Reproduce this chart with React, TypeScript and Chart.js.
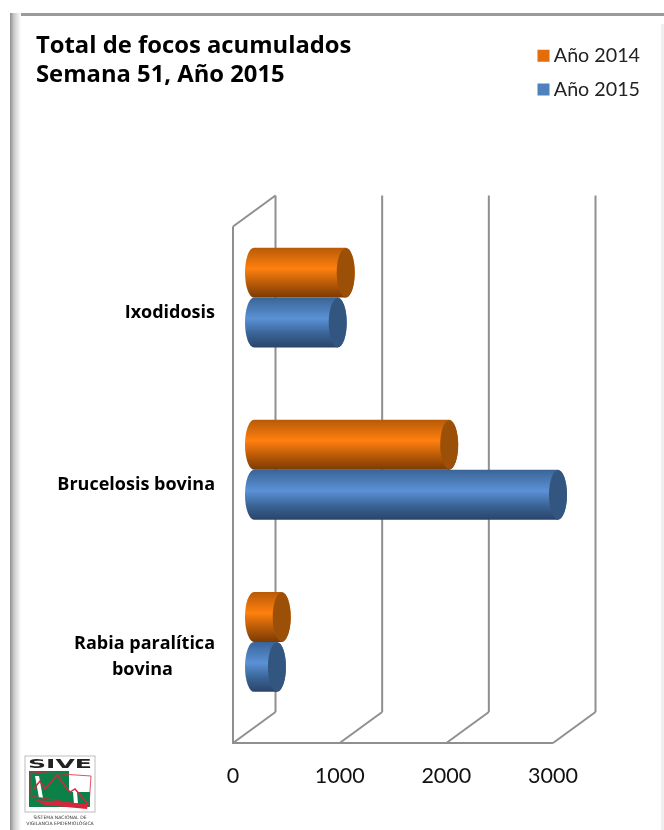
import React, { useEffect, useRef } from "react";
import { Chart, registerables } from "chart.js";

Chart.register(...registerables);

const titleLines = ["Total de focos acumulados", "Semana 51, Año 2015"];
const categories: (string | string[])[] = ["Ixodidosis", "Brucelosis bovina", ["Rabia paralítica", "bovina"]];
const values2014 = [860, 1830, 260];
const values2015 = [785, 2850, 215];
const xTicks = [0, 1000, 2000, 3000];
const FONT = "Lato, 'Open Sans', sans-serif";
const BOLD = "'Open Sans', Lato, sans-serif";

const DX = 42.5, DY = -31;
const MIDX = 21, MIDY = -15;
const RX = 9;

const palette: Record<string, { flat: string; dark: string; mid: string; edge: string; cap: string }> = {
  "Año 2014": { flat: "#E46C0A", dark: "#7A3A04", mid: "#FF800E", edge: "#B85A08", cap: "#9C4F07" },
  "Año 2015": { flat: "#4F81BD", dark: "#2A4468", mid: "#5B91D6", edge: "#3A6496", cap: "#325680" },
};

function shade(ctx: CanvasRenderingContext2D, top: number, bottom: number, name: string) {
  const c = palette[name];
  const g = ctx.createLinearGradient(0, top, 0, bottom);
  g.addColorStop(0, c.edge);
  g.addColorStop(0.42, c.mid);
  g.addColorStop(0.72, c.edge);
  g.addColorStop(1, c.dark);
  return g;
}

const cylinder3d = {
  id: "cylinder3d",
  beforeDatasetsDraw(chart: any) {
    const { ctx, scales } = chart;
    const x = scales.x, area = chart.chartArea;
    ctx.save();
    ctx.strokeStyle = "#8F8F8F";
    ctx.lineWidth = 2;
    const line = (a: number, b: number, c: number, d: number) => {
      ctx.beginPath();
      ctx.moveTo(a, b);
      ctx.lineTo(c, d);
      ctx.stroke();
    };
    line(area.left, area.top, area.left, area.bottom);
    line(area.left - 1, area.bottom, area.right, area.bottom);
    line(area.left, area.top, area.left + DX, area.top + DY);
    xTicks.forEach((t) => {
      const p = x.getPixelForValue(t);
      line(p, area.bottom, p + DX, area.bottom + DY);
      line(p + DX, area.bottom + DY, p + DX, area.top + DY);
    });
    ctx.restore();
    ctx.save();
    ctx.translate(MIDX, MIDY);
  },
  beforeDatasetDraw(chart: any, args: any) {
    const { ctx } = chart;
    const name = chart.data.datasets[args.index].label;
    args.meta.data.forEach((el: any) => {
      const top = el.y - el.height / 2, bottom = el.y + el.height / 2;
      ctx.fillStyle = shade(ctx, top, bottom, name);
      ctx.beginPath();
      ctx.ellipse(el.base, el.y, RX, el.height / 2, 0, Math.PI / 2, (3 * Math.PI) / 2);
      ctx.fill();
    });
  },
  afterDatasetDraw(chart: any, args: any) {
    const { ctx } = chart;
    const name = chart.data.datasets[args.index].label;
    args.meta.data.forEach((el: any) => {
      const top = el.y - el.height / 2, bottom = el.y + el.height / 2;
      ctx.fillStyle = shade(ctx, top, bottom, name);
      ctx.beginPath();
      ctx.ellipse(el.x, el.y, RX, el.height / 2, 0, 0, Math.PI * 2);
      ctx.fill();
      ctx.fillStyle = palette[name].cap;
      ctx.beginPath();
      ctx.ellipse(el.x, el.y, RX, el.height / 2 - 0.5, 0, 0, Math.PI * 2);
      ctx.fill();
    });
  },
  afterDatasetsDraw(chart: any) {
    chart.ctx.restore();
  },
  afterLayout(chart: any) {
    const l = chart.legend;
    if (l) {
      const w = l.width, h = l.height;
      l.left = 529;
      l.top = 32;
      l.right = 529 + w;
      l.bottom = 32 + h;
    }
  },
};

function barFill(name: string) {
  return (c: any) => {
    const { chart, dataIndex, datasetIndex } = c;
    const y = chart.scales?.y;
    if (!y || dataIndex === undefined) return palette[name].flat;
    const band = y.getPixelForValue(1) - y.getPixelForValue(0);
    const h = (band * 0.58) / 2;
    const centre = y.getPixelForValue(dataIndex);
    const top = datasetIndex === 0 ? centre - h : centre;
    return shade(chart.ctx, top, top + h, name);
  };
}

export default function App() {
  const ref = useRef<HTMLCanvasElement>(null);
  useEffect(() => {
    document.body.style.margin = "0";
    document.body.style.background = "#fff";
    const chart = new Chart(ref.current!, {
      type: "bar",
      data: {
        labels: categories as any,
        datasets: [
          { label: "Año 2014", data: values2014, backgroundColor: barFill("Año 2014") as any },
          { label: "Año 2015", data: values2015, backgroundColor: barFill("Año 2015") as any },
        ],
      },
      plugins: [cylinder3d],
      options: {
        indexAxis: "y",
        responsive: false,
        animation: false,
        devicePixelRatio: 1,
        layout: { autoPadding: false, padding: { left: 36, right: 111, top: 31, bottom: 38 } },
        datasets: { bar: { categoryPercentage: 0.58, barPercentage: 1 } },
        scales: {
          x: {
            type: "linear",
            min: 0,
            max: 3000,
            afterBuildTicks: (s: any) => { s.ticks = xTicks.map((value) => ({ value })); },
            afterFit: (s: any) => { s.height = 49; },
            grid: { display: false, drawTicks: false },
            border: { display: false },
            ticks: {
              color: "#111",
              font: { family: FONT, size: 21.5 },
              padding: 20,
              maxRotation: 0,
              autoSkip: false,
              callback: (v: any) => String(v),
            },
          },
          y: {
            type: "category",
            afterFit: (s: any) => { s.width = 197; },
            grid: { display: false, drawTicks: false },
            border: { display: false },
            ticks: {
              color: "#000",
              padding: 18,
              font: { family: BOLD, size: 18, weight: "bold", lineHeight: 1.4 },
              callback(this: any, _v: any, i: number) {
                const label = categories[i];
                return Array.isArray(label)
                  ? [label[0], label[1] + "\u00a0".repeat(9)]
                  : label;
              },
            } as any,
          },
        },
        plugins: {
          tooltip: { enabled: false },
          title: {
            display: true,
            text: titleLines,
            align: "start",
            color: "#000",
            font: { family: BOLD, size: 23.8, weight: "bold", lineHeight: 1.25 },
            padding: { top: 0, bottom: 136 },
          },
          legend: {
            display: true,
            position: "chartArea" as any,
            align: "start",
            labels: {
              boxWidth: 1,
              boxHeight: 1,
              padding: 14,
              color: "#222",
              font: { family: FONT, size: 19.7 },
              generateLabels: (c: any) =>
                c.data.datasets.map((d: any, i: number) => ({
                  text: d.label,
                  fillStyle: palette[d.label].flat,
                  strokeStyle: palette[d.label].flat,
                  lineWidth: 11,
                  lineJoin: "miter",
                  datasetIndex: i,
                  fontColor: "#222",
                })),
            },
          },
        },
      },
    });
    return () => chart.destroy();
  }, []);

  return (
    <div style={{ position: "relative", width: 664, height: 830, overflow: "hidden", background: "#fff" }}>
      <div style={{ position: "absolute", left: 10, top: 13, width: 660, height: 2.5, background: "#9A9A9A" }} />
      <div style={{ position: "absolute", left: 10, top: 13, width: 11, height: 820, background: "linear-gradient(90deg,#8E8E8E,#C8C8C8 35%,#fff)" }} />
      <div style={{ position: "absolute", right: 0, top: 24, width: 3, height: 810, background: "#EFEFEF" }} />
      <canvas ref={ref} width={664} height={830} style={{ position: "absolute", left: 0, top: 0 }} />
      <svg width={100} height={76} viewBox="0 0 100 76" style={{ position: "absolute", left: 15, top: 754 }}>
        <rect x={10} y={2} width={70} height={56} fill="#fff" stroke="#BDBDBD" />
        <text x={45} y={14} textAnchor="middle" fontFamily="DejaVu Sans" fontWeight="bold" fontSize={13} textLength={64} lengthAdjust="spacingAndGlyphs" fill="#222">SIVE</text>
        <polygon points="14,17 54,17 54,38 75,38 75,53 14,53" fill="#0B8048" />
        <polygon points="20,22 24,22 28,44 24,44" fill="#fff" />
        <polygon points="58,38 62,38 63,50 59,50" fill="#fff" />
        <polyline points="16,18 76,22 74,52 16,42 16,18" fill="none" stroke="#D9253A" strokeWidth={0.8} />
        <polyline points="18,36 25,27 30,35 42,21 50,32 55,38 60,35 73,50" fill="none" stroke="#D9253A" strokeWidth={1.4} />
        <polygon points="20,46 73,50 72,55 30,51" fill="#D9253A" />
        <text x={45} y={65} textAnchor="middle" fontFamily="DejaVu Sans" fontSize={4.6} fill="#333">SISTEMA NACIONAL DE</text>
        <text x={45} y={71} textAnchor="middle" fontFamily="DejaVu Sans" fontSize={4.6} fill="#333">VIGILANCIA EPIDEMIOLÓGICA</text>
      </svg>
    </div>
  );
}
